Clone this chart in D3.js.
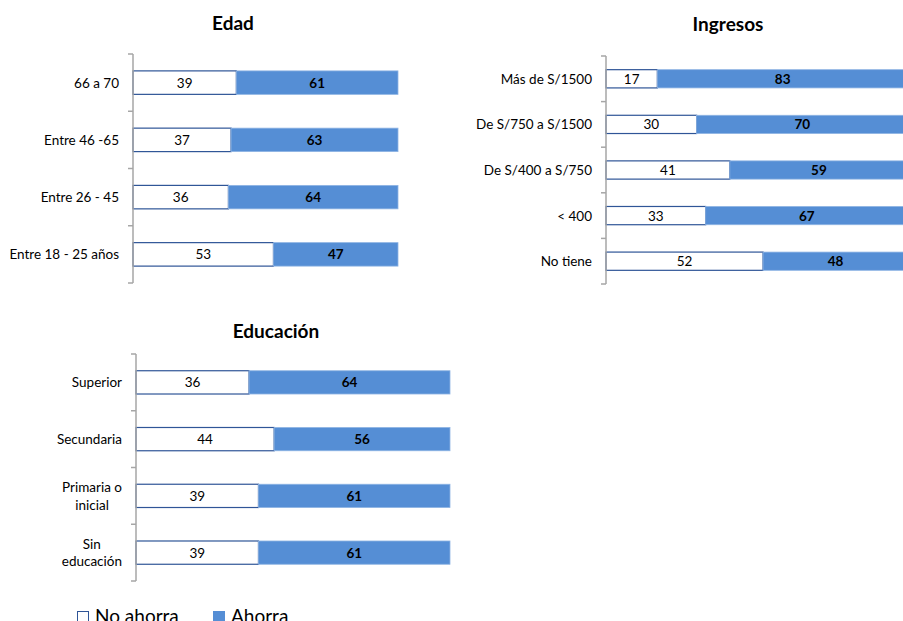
<!DOCTYPE html>
<html><head><meta charset="utf-8">
<script src="https://cdn.jsdelivr.net/npm/d3@7"></script>
<style>body{margin:0;background:#fff}svg{display:block}text{font-family:Lato,"Open Sans",sans-serif}</style>
</head><body>
<script>
const edadCategories = ["66 a 70", "Entre 46 -65", "Entre 26 - 45", "Entre 18 - 25 años"];
const edadNoAhorra = [39, 37, 36, 53];
const edadAhorra = [61, 63, 64, 47];

const ingresosCategories = ["Más de S/1500", "De S/750 a S/1500", "De S/400 a S/750", "< 400", "No tiene"];
const ingresosNoAhorra = [17, 30, 41, 33, 52];
const ingresosAhorra = [83, 70, 59, 67, 48];

const educacionCategories = [["Superior"], ["Secundaria"], ["Primaria o", "inicial"], ["Sin", "educación"]];
const educacionNoAhorra = [36, 44, 39, 39];
const educacionAhorra = [64, 56, 61, 61];

const seriesNames = ["No ahorra", "Ahorra"];

const svg = d3.select("body").append("svg").attr("width", 903).attr("height", 621);

const panels = [
  {title: "Edad", cats: edadCategories.map(d => [d]), no: edadNoAhorra, si: edadAhorra,
   x0: 133, x1: 398, y0: 54, y1: 283, tx: 233, ty: 30, barFrac: 0.41},
  {title: "Ingresos", cats: ingresosCategories.map(d => [d]), no: ingresosNoAhorra, si: ingresosAhorra,
   x0: 606, x1: 908, y0: 56, y1: 284, tx: 728, ty: 31, barFrac: 0.40},
  {title: "Educación", cats: educacionCategories, no: educacionNoAhorra, si: educacionAhorra,
   x0: 136, x1: 450, y0: 354, y1: 581, tx: 276, ty: 338, barFrac: 0.41}
];

const blue = "#558ED5";
const fs = 13.5;

panels.forEach(p => {
  const g = svg.append("g");
  const x = d3.scaleLinear().domain([0, 100]).range([p.x0, p.x1]);
  const idx = d3.range(p.cats.length);
  const y = d3.scaleBand().domain(idx).range([p.y0, p.y1]).paddingInner(1 - p.barFrac).paddingOuter((1 - p.barFrac) / 2);
  const band = (p.y1 - p.y0) / p.cats.length;

  g.append("text").attr("x", p.tx).attr("y", p.ty).attr("text-anchor", "middle")
    .attr("font-size", 19).attr("font-weight", "bold").attr("fill", "#000").text(p.title);

  idx.forEach(i => {
    g.append("rect").attr("x", x(0)).attr("y", y(i)).attr("width", x(p.no[i]) - x(0)).attr("height", y.bandwidth())
      .attr("fill", "#fff").attr("stroke", "#2F5597").attr("stroke-width", 1.2);
    g.append("rect").attr("x", x(p.no[i])).attr("y", y(i)).attr("width", x(100) - x(p.no[i])).attr("height", y.bandwidth())
      .attr("fill", blue).attr("stroke", "#8EB4E3").attr("stroke-width", 0.8);
    g.append("text").attr("x", (x(0) + x(p.no[i])) / 2).attr("y", y(i) + y.bandwidth() / 2 + 5)
      .attr("text-anchor", "middle").attr("font-size", fs).attr("fill", "#000").text(p.no[i]);
    g.append("text").attr("x", (x(p.no[i]) + x(100)) / 2).attr("y", y(i) + y.bandwidth() / 2 + 5)
      .attr("text-anchor", "middle").attr("font-size", fs).attr("font-weight", "bold").attr("fill", "#000").text(p.si[i]);
  });

  g.append("line").attr("x1", p.x0).attr("x2", p.x0).attr("y1", p.y0).attr("y2", p.y1)
    .attr("stroke", "#A6A6A6").attr("stroke-width", 1.5);
  d3.range(p.cats.length + 1).forEach(k => {
    const yy = p.y0 + k * band;
    g.append("line").attr("x1", p.x0 - 5).attr("x2", p.x0).attr("y1", yy).attr("y2", yy)
      .attr("stroke", "#A6A6A6").attr("stroke-width", 1.5);
  });

  idx.forEach(i => {
    const lines = p.cats[i];
    const cy = y(i) + y.bandwidth() / 2;
    const right = p.x0 - 14;
    const t = g.append("text").attr("font-size", fs).attr("fill", "#000");
    if (lines.length === 1) {
      t.attr("x", right).attr("y", cy + 5).attr("text-anchor", "end").text(lines[0]);
    } else {
      const tmp = g.append("text").attr("font-size", fs);
      let maxW = 0;
      lines.forEach(l => { tmp.text(l); maxW = Math.max(maxW, tmp.node().getComputedTextLength()); });
      tmp.remove();
      const cx = right - maxW / 2;
      const lh = 17.5;
      lines.forEach((l, j) => {
        t.append("tspan").attr("x", cx).attr("y", cy + 5 + (j - (lines.length - 1) / 2) * lh)
          .attr("text-anchor", "middle").text(l);
      });
    }
  });
});

const legend = svg.append("g");
const legendItems = [{name: seriesNames[0], x: 77, fill: "#fff", stroke: "#2F5597"}, {name: seriesNames[1], x: 213, fill: blue, stroke: blue}];
legendItems.forEach(d => {
  legend.append("rect").attr("x", d.x + 0.5).attr("y", 611.5).attr("width", 11).attr("height", 11)
    .attr("fill", d.fill).attr("stroke", d.stroke).attr("stroke-width", 1);
  legend.append("text").attr("x", d.x + 18).attr("y", 623).attr("font-size", 19).attr("fill", "#000").text(d.name);
});
</script>
</body></html>
